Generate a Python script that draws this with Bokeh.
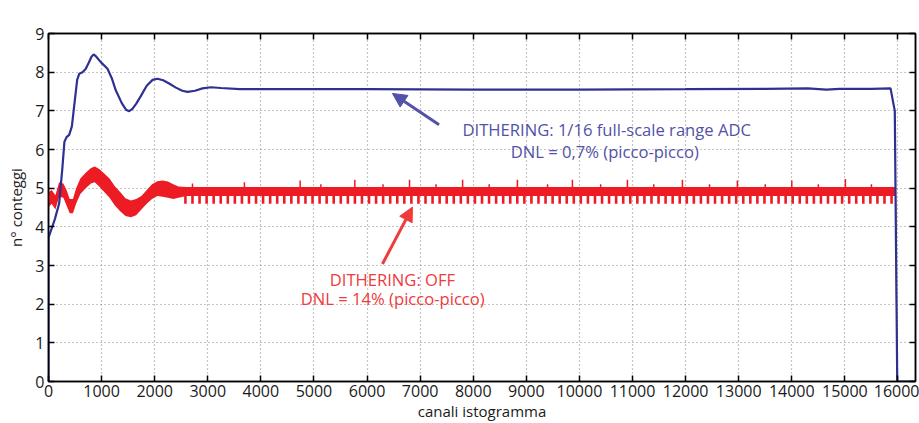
from bokeh.plotting import figure
from bokeh.models import Range1d, LinearAxis, Label, Arrow, NormalHead, FixedTicker
from bokeh.embed import file_html
from bokeh.resources import INLINE

# ---------------- data ----------------
x_ticks = [0, 1000, 2000, 3000, 4000, 5000, 6000, 7000, 8000, 9000, 10000,
           11000, 12000, 13000, 14000, 15000, 16000]
y_ticks = [0, 1, 2, 3, 4, 5, 6, 7, 8, 9]

# Dithering 1/16 full-scale (blue), counts in units of 1e6
blue_x = [0, 0, 120, 200, 260, 300, 340, 390, 440, 490, 540, 580, 640, 700, 760,
          810, 850, 900, 985, 1111, 1190, 1267, 1380, 1460, 1519, 1580, 1650,
          1738, 1850, 1960, 2053, 2160, 2280, 2400, 2520, 2617, 2760, 2900,
          3060, 3250, 3600, 4500, 6000, 8000, 10000, 12000, 13500, 14300,
          14650, 14900, 15500, 15860, 15940, 15986, 16330]
blue_y = [0.0, 3.72, 4.2, 4.6, 5.5, 6.2, 6.32, 6.38, 6.6, 7.2, 7.8, 7.96, 8.0,
          8.08, 8.25, 8.4, 8.46, 8.4, 8.26, 8.09, 7.85, 7.53, 7.2, 7.03, 6.99,
          7.05, 7.18, 7.38, 7.65, 7.8, 7.83, 7.79, 7.7, 7.6, 7.52, 7.49, 7.52,
          7.58, 7.61, 7.59, 7.56, 7.56, 7.56, 7.55, 7.55, 7.56, 7.57, 7.58,
          7.55, 7.57, 7.57, 7.58, 7.0, 0.0, 0.0]

# Dithering OFF (red): band envelope
red_x = [0, 60, 130, 200, 280, 340, 400, 460, 520, 600, 700, 800, 870, 950,
         1050, 1150, 1250, 1350, 1450, 1550, 1650, 1750, 1850, 1950, 2050,
         2150, 2250, 2350, 2450, 2600, 2800, 15955]
red_hi = [4.9, 4.95, 4.82, 5.15, 5.12, 4.95, 4.72, 4.72, 5.0, 5.25, 5.4, 5.52,
          5.56, 5.5, 5.38, 5.25, 5.05, 4.9, 4.74, 4.68, 4.72, 4.8, 4.95, 5.1,
          5.18, 5.2, 5.17, 5.1, 5.04, 5.03, 5.03, 5.03]
red_lo = [4.5, 4.6, 4.45, 4.78, 4.75, 4.55, 4.35, 4.35, 4.6, 4.85, 5.0, 5.12,
          5.15, 5.05, 4.9, 4.75, 4.55, 4.4, 4.28, 4.25, 4.3, 4.45, 4.6, 4.72,
          4.8, 4.78, 4.75, 4.72, 4.75, 4.8, 4.8, 4.8]
red_drop_x = [15955, 15985, 16330]
red_drop_y = [4.8, 0.0, 0.0]

# downward DNL teeth of the red curve
red_teeth_x = [2579, 2712, 2845, 2978, 3111, 3244, 3377, 3510, 3643, 3776,
               3909, 4042, 4175, 4308, 4441, 4574, 4707, 4840, 4973, 5106,
               5239, 5372, 5505, 5638, 5771, 5904, 6037, 6170, 6303, 6436,
               6569, 6702, 6835, 6968, 7101, 7234, 7367, 7500, 7633, 7766,
               7899, 8032, 8165, 8298, 8431, 8564, 8697, 8830, 8963, 9096,
               9229, 9362, 9495, 9628, 9761, 9894, 10027, 10160, 10293, 10426,
               10559, 10692, 10825, 10958, 11091, 11224, 11357, 11490, 11623,
               11756, 11889, 12022, 12155, 12288, 12421, 12554, 12687, 12820,
               12953, 13086, 13219, 13352, 13485, 13618, 13751, 13884, 14017,
               14150, 14283, 14416, 14549, 14682, 14815, 14948, 15081, 15214,
               15347, 15480, 15613, 15746, 15879]
red_teeth_top = 4.82
red_teeth_bottom = 4.6

# upward spikes of the red curve
red_spike_x = [2712, 3690, 4740, 5130, 5770, 6300, 6800, 7300, 7800, 8300,
               8832, 9400, 9868, 10400, 10904, 11400, 11940, 12450, 12975,
               13500, 14000, 14500, 15010, 15500]
red_spike_y = [5.12, 5.15, 5.2, 5.1, 5.22, 5.1, 5.22, 5.1, 5.22, 5.1, 5.22,
               5.1, 5.22, 5.1, 5.22, 5.1, 5.22, 5.1, 5.2, 5.1, 5.2, 5.1,
               5.24, 5.1]
red_spike_base = 5.03

# annotations (data coordinates)
blue_arrow = (7356, 6.64, 6478, 7.45)
red_arrow = (6290, 3.04, 6855, 4.51)
blue_text = ["DITHERING: 1/16 full-scale range ADC", "DNL = 0,7% (picco-picco)"]
blue_text_pos = [(10514, 6.52), (10477, 5.95)]
red_text = ["DITHERING: OFF", "DNL = 14% (picco-picco)"]
red_text_pos = [(6478, 2.63), (6484, 2.14)]

# ---------------- styles ----------------
BLUE = "#2E3192"
RED = "#ED1C24"
BLUE_TXT = "#5252A6"
RED_TXT = "#EE3B3B"
FONT = "Open Sans"

p = figure(width=919, height=423, output_backend="svg", toolbar_location=None,
           x_range=Range1d(0, 16330), y_range=Range1d(0, 9),
           min_border_left=48, min_border_right=4, min_border_top=33,
           min_border_bottom=42,
           x_axis_label="canali istogramma", y_axis_label="n° conteggi")
p.background_fill_color = "white"
p.border_fill_color = "white"
p.outline_line_color = "black"
p.outline_line_width = 1.5

for ax in p.xaxis:
    ax.ticker = FixedTicker(ticks=x_ticks)
for ax in p.yaxis:
    ax.ticker = FixedTicker(ticks=y_ticks)

for ax in list(p.xaxis) + list(p.yaxis):
    ax.major_tick_in = 6
    ax.major_tick_out = 0
    ax.minor_tick_line_color = None
    ax.axis_line_color = "black"
    ax.axis_line_width = 1.5
    ax.major_tick_line_color = "black"
    ax.major_tick_line_width = 1.5
    ax.major_label_text_font = FONT
    ax.major_label_text_font_size = "16px"
    ax.major_label_text_color = "#1a1a1a"
    ax.axis_label_text_font = FONT
    ax.axis_label_text_font_size = "15px"
    ax.axis_label_text_font_style = "normal"
    ax.axis_label_text_color = "#1a1a1a"

p.xaxis.major_label_standoff = 3
p.xaxis.axis_label_standoff = 1
p.yaxis.major_label_standoff = 4
p.yaxis.axis_label_standoff = 6

# mirrored ticks on top and right (no labels)
top_ax = LinearAxis(ticker=FixedTicker(ticks=x_ticks), major_tick_in=6,
                    major_tick_out=0, minor_tick_line_color=None,
                    major_label_overrides={t: "" for t in x_ticks},
                    major_label_standoff=0,
                    axis_line_width=1.5, major_tick_line_width=1.5)
right_ax = LinearAxis(ticker=FixedTicker(ticks=y_ticks), major_tick_in=6,
                      major_tick_out=0, minor_tick_line_color=None,
                      major_label_overrides={t: "" for t in y_ticks},
                      major_label_standoff=0,
                      axis_line_width=1.5, major_tick_line_width=1.5)
p.add_layout(top_ax, "above")
p.add_layout(right_ax, "right")

for g in (p.xgrid, p.ygrid):
    g.grid_line_color = "#8a8a8a"
    g.grid_line_dash = "1 3"
    g.grid_line_width = 1.2

# red curve
p.varea(x=red_x, y1=red_lo, y2=red_hi, fill_color=RED)
p.segment(x0=red_teeth_x, y0=[red_teeth_top] * len(red_teeth_x),
          x1=red_teeth_x, y1=[red_teeth_bottom] * len(red_teeth_x),
          line_color=RED, line_width=2.6)
p.segment(x0=red_spike_x, y0=[red_spike_base] * len(red_spike_x),
          x1=red_spike_x, y1=red_spike_y, line_color=RED, line_width=1.5)
p.line(red_drop_x, red_drop_y, line_color=RED, line_width=1.2)

# blue curve
p.line(blue_x, blue_y, line_color=BLUE, line_width=2.2)

# arrows
p.add_layout(Arrow(x_start=blue_arrow[0], y_start=blue_arrow[1],
                   x_end=blue_arrow[2], y_end=blue_arrow[3],
                   line_color=BLUE_TXT, line_width=3,
                   end=NormalHead(size=14, fill_color=BLUE_TXT, line_color=BLUE_TXT)))
p.add_layout(Arrow(x_start=red_arrow[0], y_start=red_arrow[1],
                   x_end=red_arrow[2], y_end=red_arrow[3],
                   line_color=RED_TXT, line_width=3,
                   end=NormalHead(size=14, fill_color=RED_TXT, line_color=RED_TXT)))

for t, (tx, ty) in zip(blue_text, blue_text_pos):
    p.add_layout(Label(x=tx, y=ty, text=t, text_align="center",
                       text_baseline="middle", text_font=FONT,
                       text_font_size="16.6px", text_color=BLUE_TXT))
for t, (tx, ty) in zip(red_text, red_text_pos):
    p.add_layout(Label(x=tx, y=ty, text=t, text_align="center",
                       text_baseline="middle", text_font=FONT,
                       text_font_size="16.6px", text_color=RED_TXT))

# x 10^6 multiplier
p.add_layout(Label(x=0, y=9, y_offset=3, text="x 10", text_align="left",
                   text_baseline="bottom", text_font=FONT,
                   text_font_size="15px", text_color="#1a1a1a"))
p.add_layout(Label(x=0, y=9, x_offset=35, y_offset=13, text="6",
                   text_align="left", text_baseline="bottom", text_font=FONT,
                   text_font_size="11px", text_color="#1a1a1a"))

open("out.html", "w").write(file_html(p, INLINE))
